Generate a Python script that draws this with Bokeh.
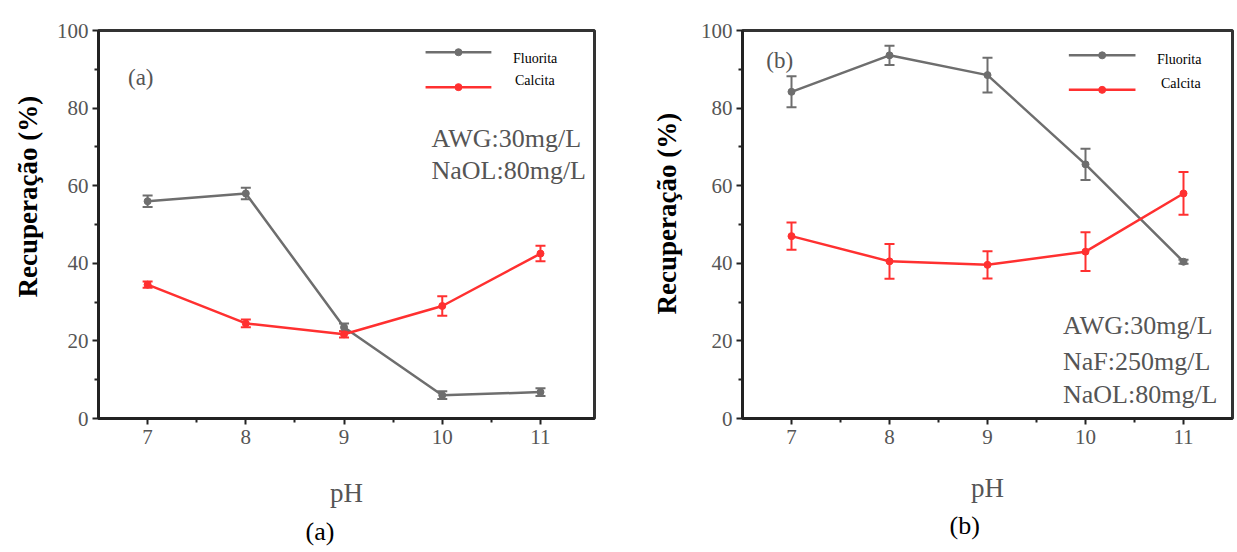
from bokeh.plotting import figure
from bokeh.layouts import row
from bokeh.models import ColumnDataSource, Whisker, TeeHead, Label, FixedTicker, Range1d, Title
from bokeh.embed import file_html
from bokeh.resources import INLINE

# ---------------- data ----------------
ph = [7, 8, 9, 10, 11]

a_fluorita = [56.0, 58.0, 23.5, 6.0, 6.8]
a_fluorita_err = [1.5, 1.5, 1.0, 1.0, 1.0]
a_calcita = [34.5, 24.5, 21.7, 29.0, 42.5]
a_calcita_err = [0.8, 1.0, 0.8, 2.5, 2.0]

b_fluorita = [84.2, 93.6, 88.5, 65.5, 40.4]
b_fluorita_err = [4.0, 2.5, 4.5, 4.0, 0.5]
b_calcita = [47.0, 40.5, 39.6, 43.0, 58.0]
b_calcita_err = [3.5, 4.5, 3.5, 5.0, 5.5]

y_ticks = [0, 20, 40, 60, 80, 100]
series_names = ["Fluorita", "Calcita"]
notes_a = ["AWG:30mg/L", "NaOL:80mg/L"]
notes_b = ["AWG:30mg/L", "NaF:250mg/L", "NaOL:80mg/L"]

GRAY = "#6e6e6e"
RED = "#ff3030"
SERIF = "Times New Roman, Liberation Serif, serif"
TXT_GRAY = "#555555"


def make_panel(width, border, xmax, fl, fl_err, ca, ca_err, tag, caption, notes, lay):
    left, right, top, bottom = border
    p = figure(width=width, height=552, output_backend="svg", toolbar_location=None,
               x_range=Range1d(6.5, xmax), y_range=Range1d(0, 100),
               min_border_left=left, min_border_right=right,
               min_border_top=top, min_border_bottom=bottom)
    p.grid.visible = False
    p.outline_line_color = "#333333"
    p.outline_line_width = 3
    p.outline_line_alpha = 1
    p.background_fill_color = "white"
    p.border_fill_color = "white"

    for ax in (p.xaxis[0], p.yaxis[0]):
        ax.axis_line_width = 3
        ax.axis_line_color = "#222222"
        ax.major_tick_line_width = 2
        ax.minor_tick_line_width = 2
        ax.major_tick_line_color = "#222222"
        ax.minor_tick_line_color = "#222222"
        ax.major_tick_in = 0
        ax.major_tick_out = 6
        ax.minor_tick_in = 0
        ax.minor_tick_out = 4
        ax.major_label_text_font = SERIF
        ax.major_label_text_font_size = "21px"
        ax.major_label_text_color = TXT_GRAY
    p.xaxis.ticker = FixedTicker(ticks=ph, minor_ticks=[7.5, 8.5, 9.5, 10.5])
    p.yaxis.ticker = FixedTicker(ticks=y_ticks, minor_ticks=[10, 30, 50, 70, 90])
    p.xaxis.major_label_standoff = 5
    p.yaxis.major_label_standoff = 4

    # x-axis title
    p.xaxis.axis_label = "pH"
    p.xaxis.axis_label_text_font = SERIF
    p.xaxis.axis_label_text_font_size = "27px"
    p.xaxis.axis_label_text_font_style = "normal"
    p.xaxis.axis_label_text_color = TXT_GRAY
    p.xaxis.axis_label_standoff = lay["xlabel_standoff"]

    # y-axis title as a left-side title (allows shifting along the axis)
    yt = Title(text="Recuperação (%)", align="left", offset=lay["ylabel_offset"],
               standoff=lay["ylabel_standoff"], text_font=SERIF, text_font_size="27px",
               text_font_style="bold", text_color="black")
    p.add_layout(yt, "left")

    # caption below
    ct = Title(text=caption, align="left", offset=lay["caption_offset"],
               standoff=lay["caption_standoff"], text_font=SERIF, text_font_size="26px",
               text_font_style="normal", text_color="black")
    p.add_layout(ct, "below")

    for vals, errs, col in ((fl, fl_err, GRAY), (ca, ca_err, RED)):
        src = ColumnDataSource(dict(x=ph, y=vals,
                                    lo=[v - e for v, e in zip(vals, errs)],
                                    hi=[v + e for v, e in zip(vals, errs)]))
        p.line("x", "y", source=src, line_color=col, line_width=2.5)
        p.scatter("x", "y", source=src, size=7, color=col)
        w = Whisker(source=src, base="x", lower="lo", upper="hi",
                    line_color=col, line_width=2,
                    upper_head=TeeHead(size=10, line_color=col, line_width=2),
                    lower_head=TeeHead(size=10, line_color=col, line_width=2))
        p.add_layout(w)

    # manual legend
    lx0, lx1, fy, cy, tfx, tfy, tcx, tcy = lay["legend"]
    for (yy, col) in ((fy, GRAY), (cy, RED)):
        p.line([lx0, lx1], [yy, yy], line_color=col, line_width=2.5)
        p.scatter([(lx0 + lx1) / 2], [yy], size=7, color=col)
    p.add_layout(Label(x=tfx, y=tfy, text=series_names[0], text_font=SERIF,
                       text_font_size="14px", text_color="black", text_baseline="middle"))
    p.add_layout(Label(x=tcx, y=tcy, text=series_names[1], text_font=SERIF,
                       text_font_size="14px", text_color="black", text_baseline="middle"))

    # condition notes
    nx, ny_list = lay["notes"]
    for txt, ny in zip(notes, ny_list):
        p.add_layout(Label(x=nx, y=ny, text=txt, text_font=SERIF, text_font_size="26px",
                           text_color=TXT_GRAY, text_baseline="middle"))

    # panel tag
    tx, ty = lay["tag"]
    p.add_layout(Label(x=tx, y=ty, text=tag, text_font=SERIF, text_font_size="23px",
                       text_color=TXT_GRAY, text_align="center", text_baseline="middle"))
    return p


lay_a = dict(legend=(9.83, 10.5, 94.4, 85.4, 10.72, 92.7, 10.74, 87.1),
             notes=(9.89, [72.2, 63.9]),
             tag=(6.93, 87.9),
             xlabel_standoff=31, ylabel_offset=121, ylabel_standoff=21,
             caption_offset=207, caption_standoff=9)
lay_b = dict(legend=(9.83, 10.51, 93.6, 84.7, 10.73, 92.6, 10.77, 86.4),
             notes=(9.77, [24.0, 14.8, 6.1]),
             tag=(6.88, 92.3),
             xlabel_standoff=26, ylabel_offset=104, ylabel_standoff=32,
             caption_offset=207, caption_standoff=6)

pa = make_panel(615, (96, 21, 22, 134), 11.55, a_fluorita, a_fluorita_err, a_calcita,
                a_calcita_err, "(a)", "(a)", notes_a, lay_a)
pb = make_panel(622, (127, 5, 30, 131), 11.5, b_fluorita, b_fluorita_err, b_calcita,
                b_calcita_err, "(b)", "(b)", notes_b, lay_b)

layout = row(pa, pb, spacing=0)
open("out.html", "w").write(file_html(layout, INLINE))
